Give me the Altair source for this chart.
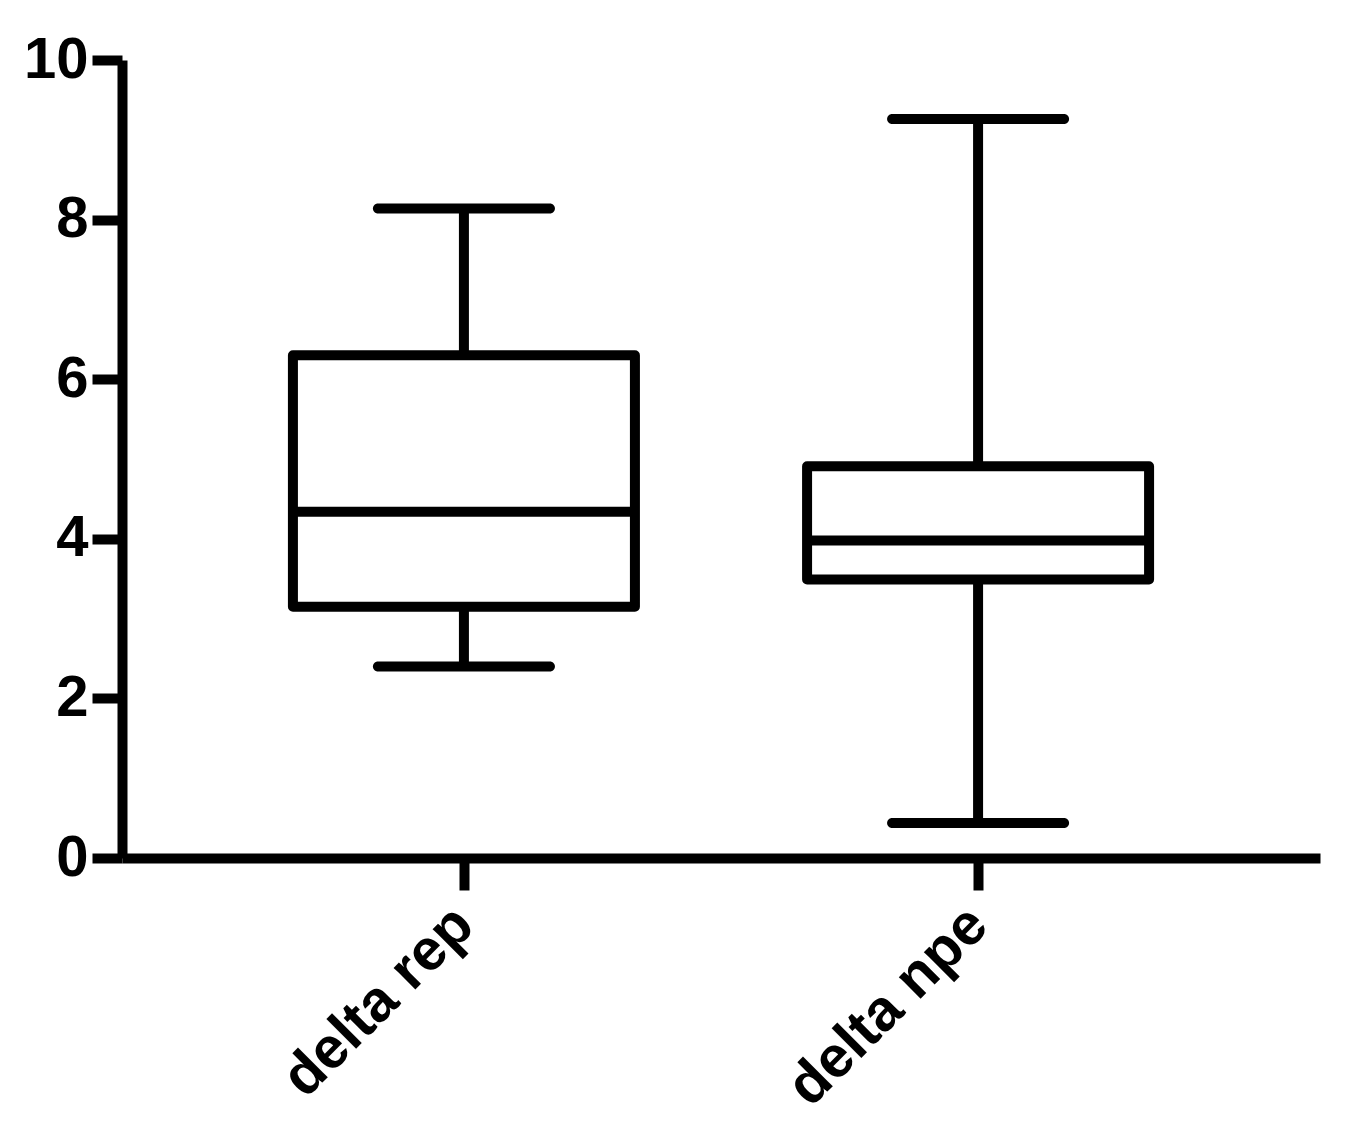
import altair as alt
import pandas as pd

categories = ["delta rep", "delta npe"]
mins = [2.40, 0.44]
q1s = [3.15, 3.49]
medians = [4.34, 3.98]
q3s = [6.30, 4.91]
maxs = [8.14, 9.26]

df = pd.DataFrame({
    "cat": categories, "min": mins, "q1": q1s,
    "med": medians, "q3": q3s, "max": maxs,
})

FONT = "Liberation Sans"
SW = 10

xenc = alt.X("cat:N", sort=categories,
             scale=alt.Scale(type="point", padding=0.665),
             axis=alt.Axis(title=None, labelAngle=-45, labelAlign="right",
                           labelBaseline="middle", labelFontSize=58,
                           labelFont=FONT, labelFontWeight="bold",
                           labelColor="black", tickSize=32, tickWidth=SW,
                           tickColor="black", domainWidth=SW,
                           domainColor="black", labelPadding=26,
                           labelLimit=0, labelOverlap=False, grid=False))
yscale = alt.Scale(domain=[0, 10], nice=False, zero=True)
yaxis = alt.Axis(title=None, values=[0, 2, 4, 6, 8, 10], labelFontSize=58,
                 labelFont=FONT, labelFontWeight="bold", labelColor="black",
                 tickSize=30, tickWidth=SW, tickColor="black",
                 domainWidth=SW, domainColor="black", labelPadding=4,
                 grid=False)

base = alt.Chart(df)

lower = base.mark_rule(color="black", strokeWidth=SW).encode(
    x=xenc, y=alt.Y("min:Q", scale=yscale, axis=yaxis), y2="q1:Q")
upper = base.mark_rule(color="black", strokeWidth=SW).encode(
    x=xenc, y=alt.Y("q3:Q", scale=yscale, axis=yaxis), y2="max:Q")
box = base.mark_bar(size=342, fill="white", stroke="black",
                    strokeWidth=SW, strokeJoin="round").encode(
    x=xenc, y=alt.Y("q1:Q", scale=yscale, axis=yaxis), y2="q3:Q")
median = base.mark_tick(size=342, thickness=SW, color="black", opacity=1).encode(
    x=xenc, y=alt.Y("med:Q", scale=yscale, axis=yaxis))
capmin = base.mark_tick(size=182, thickness=SW, color="black", opacity=1,
                        cornerRadius=5).encode(
    x=xenc, y=alt.Y("min:Q", scale=yscale, axis=yaxis))
capmax = base.mark_tick(size=182, thickness=SW, color="black", opacity=1,
                        cornerRadius=5).encode(
    x=xenc, y=alt.Y("max:Q", scale=yscale, axis=yaxis))

chart = alt.layer(lower, upper, box, median, capmin, capmax).properties(
    width=1198, height=798,
    autosize=alt.AutoSizeParams(type="none"),
    padding={"left": 114, "top": 52, "right": 20, "bottom": 270},
).configure(background="white").configure_view(stroke=None, strokeWidth=0)

chart.save("out.html", embed_options={"renderer": "svg", "actions": False})
